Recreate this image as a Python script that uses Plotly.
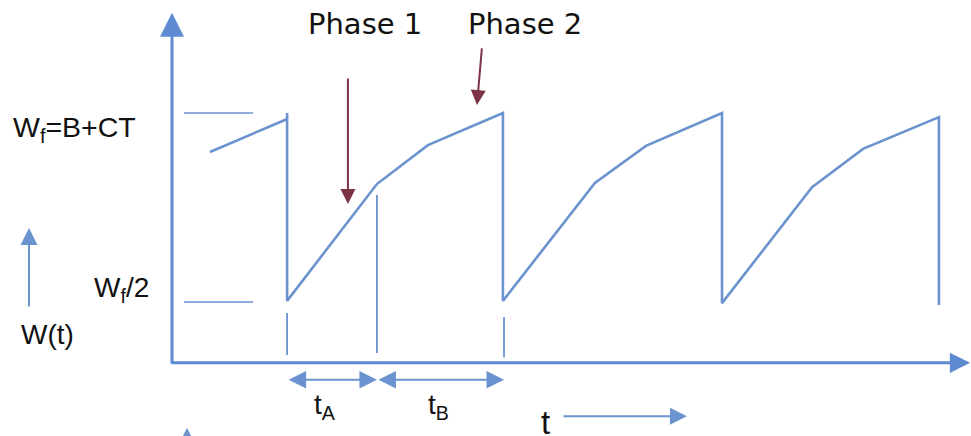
import plotly.graph_objects as go

FIG_W, FIG_H = 971, 436

# ---------------- data (time in cycle units, W in units of W_f) ----------------
t_curve = [0.174, 0.528, 0.528, 0.528, 0.940, 1.174, 1.518, 1.518,
           1.940, 2.174, 2.523, 2.523, 2.936, 3.170, 3.518, 3.518]
w_curve = [0.897, 0.984, 1.000, 0.503, 0.812, 0.915, 1.000, 0.503,
           0.815, 0.913, 1.000, 0.497, 0.804, 0.905, 0.989, 0.492]

level_w = [1.0, 0.5]            # W_f and W_f/2 reference levels
level_t = [0.055, 0.372]        # extent of the reference ticks

mark_t = [0.528, 0.940, 1.523]  # phase boundary markers
mark_w_top = [0.471, 0.783, 0.460]
mark_w_bot = [0.360, 0.365, 0.354]

axis_w = 0.339                  # where the time axis crosses
w_axis_top = 1.265
t_axis_end = 3.661

dim_w = 0.294                   # level of the t_A / t_B dimension arrows
tA = [0.528, 0.940]
tB = [0.940, 1.523]

# ---------------- scales ----------------
PX_T, PX_W = 218.0, 378.0       # pixels per unit
X0_PX, W05_PX = 172.0, 302.0
x_range = [-X0_PX / PX_T, (FIG_W - X0_PX) / PX_T]
y_range = [0.5 - (FIG_H - W05_PX) / PX_W, 0.5 + W05_PX / PX_W]

BLUE = "#6b93cf"
AXIS_BLUE = "#5d8ad0"
RED = "#7c3444"

fig = go.Figure()

fig.add_trace(go.Scatter(x=t_curve, y=w_curve, mode="lines",
                         line=dict(color=BLUE, width=2.6), hoverinfo="skip"))

lx, ly = [], []
for w in level_w:
    lx += [level_t[0], level_t[1], None]
    ly += [w, w, None]
fig.add_trace(go.Scatter(x=lx, y=ly, mode="lines",
                         line=dict(color=BLUE, width=1.6), hoverinfo="skip"))

mx, my = [], []
for t, a, b in zip(mark_t, mark_w_top, mark_w_bot):
    mx += [t, t, None]
    my += [a, b, None]
fig.add_trace(go.Scatter(x=mx, y=my, mode="lines",
                         line=dict(color=BLUE, width=1.8), hoverinfo="skip"))


def arrow(x, y, ax, ay, color, width, size, both=False):
    d = dict(x=x, y=y, ax=ax, ay=ay, xref="x", yref="y", axref="x", ayref="y",
             text="", showarrow=True, arrowhead=2, arrowsize=size,
             arrowwidth=width, arrowcolor=color, standoff=0)
    if both:
        d.update(arrowside="end+start", startarrowhead=2, startarrowsize=size,
                 startstandoff=0)
    fig.add_annotation(**d)


# axes
arrow(0, w_axis_top, 0, axis_w - 0.006, AXIS_BLUE, 3, 1.6)
arrow(t_axis_end, axis_w, -0.007, axis_w, AXIS_BLUE, 3, 1.35)
# small W(t) arrow
arrow(-0.656, 0.696, -0.656, 0.484, BLUE, 2, 1.7)
# dimension arrows
arrow(tA[1], dim_w, tA[0], dim_w, BLUE, 2, 1.75, both=True)
arrow(tB[1], dim_w, tB[0], dim_w, BLUE, 2, 1.75, both=True)
# t arrow
arrow(2.362, 0.198, 1.789, 0.198, BLUE, 2, 1.7)
# cut-off arrow at bottom
arrow(0.069, 0.167, 0.069, 0.05, BLUE, 2, 1.7)
# phase arrows
arrow(0.807, 0.759, 0.807, 1.095, RED, 2, 1.5)
arrow(1.399, 1.021, 1.422, 1.175, RED, 2, 1.5)


def label(text, xpx, top_px, size, family, anchor="left"):
    fig.add_annotation(x=xpx / FIG_W, y=1 - top_px / FIG_H, xref="paper", yref="paper",
                       text=text, showarrow=False, xanchor=anchor, yanchor="top",
                       borderpad=0, font=dict(family=family, size=size, color="#111111"))


ARIAL = "Liberation Sans, Arial, sans-serif"
DEJA = "DejaVu Sans, Verdana, sans-serif"
FS = 28
label("W<sub>f</sub>=B+CT", 12, 136 - 0.905 * 28.5, 28.5, ARIAL)
label("W<sub>f</sub>/2", 93, 296 - 0.905 * FS, FS, ARIAL)
label("W(t)", 20, 343 - 0.905 * FS, FS, ARIAL)
label("Phase 1", 307, 33 - 0.928 * 29, 29, DEJA)
label("Phase 2", 467, 33 - 0.928 * 29, 29, DEJA)
label("t<sub>A</sub>", 325, 413 - 0.905 * FS, FS, ARIAL, "center")
label("t<sub>B</sub>", 438, 413 - 0.905 * FS, FS, ARIAL, "center")
label("t", 545, 433 - 0.905 * 33, 33, ARIAL, "center")

fig.update_layout(
    width=FIG_W, height=FIG_H, margin=dict(l=0, r=0, t=0, b=0),
    paper_bgcolor="white", plot_bgcolor="white", showlegend=False,
    xaxis=dict(range=x_range, visible=False, fixedrange=True),
    yaxis=dict(range=y_range, visible=False, fixedrange=True),
)

fig.write_html("out.html", config={"displayModeBar": False, "staticPlot": True},
               post_script="document.body.style.margin='0';document.body.style.overflow='hidden';")
